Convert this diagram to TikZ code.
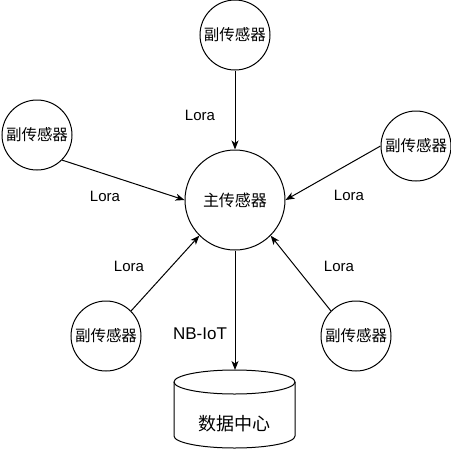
\documentclass[tikz,border=0pt]{standalone}
\usepackage{fontspec}
\setmainfont{Liberation Sans}
\newfontfamily\cjk{Noto Sans CJK SC}
\usetikzlibrary{arrows.meta, positioning}

\begin{document}
\begin{tikzpicture}[x=1pt, y=-1pt, >={Stealth[length=9pt, width=7pt, inset=2.5pt]},
    sensor/.style={circle, draw, line width=1pt, inner sep=0pt, minimum size=70pt, font=\cjk\fontsize{15.5}{18}\selectfont},
    mainsensor/.style={circle, draw, line width=1pt, inner sep=0pt, minimum size=100pt, font=\cjk\fontsize{16}{19}\selectfont},
    link/.style={->, line width=1pt},
    lbl/.style={inner sep=0pt, font=\fontsize{15}{18}\selectfont}]
                  \useasboundingbox (0, 0) rectangle (451, 451);

                  % Sensors
                  \node[mainsensor] (main) at (235, 200) {主传感器};
                  \node[sensor] (top) at (235, 35) {副传感器};
                  \node[sensor] (left) at (37, 135) {副传感器};
                  \node[sensor] (right) at (416, 146) {副传感器};
                  \node[sensor] (botleft) at (106, 336) {副传感器};
                  \node[sensor] (botright) at (356, 336) {副传感器};

                  % Data center
                  \draw[line width=1pt] (174, 382) -- (174, 436) arc (180:0:60.5 and 12) -- (295, 382);
                  \draw[line width=1pt] (234.5, 382) ellipse (60.5 and 12);
                  \coordinate (dctop) at (235, 370);
                  \node[inner sep=0pt, font=\cjk\fontsize{18}{21}\selectfont] (dc) at (234.5, 424) {数据中心};

                  % Lora links
                  \draw[link] (top.south) -- (main.north);
                  \draw[link] (left.south east) -- (main.west);
                  \draw[link] (right.west) -- (main.east);
                  \draw[link] (botleft.north east) -- (main.south west);
                  \draw[link] (botright.north west) -- (main.south east);
                  \node[lbl] (lbltop) at (200, 115) {Lora};
                  \node[lbl] (lblleft) at (105, 196) {Lora};
                  \node[lbl] (lblright) at (349, 195) {Lora};
                  \node[lbl] (lblbotleft) at (129, 266) {Lora};
                  \node[lbl] (lblbotright) at (339, 266) {Lora};

                  % NB-IoT link
                  \draw[link] (main.south) -- (dctop);
                  \node[lbl, font=\fontsize{17}{20}\selectfont] (lblnb) at (200, 334) {NB-IoT};
              \end{tikzpicture}
\end{document}
